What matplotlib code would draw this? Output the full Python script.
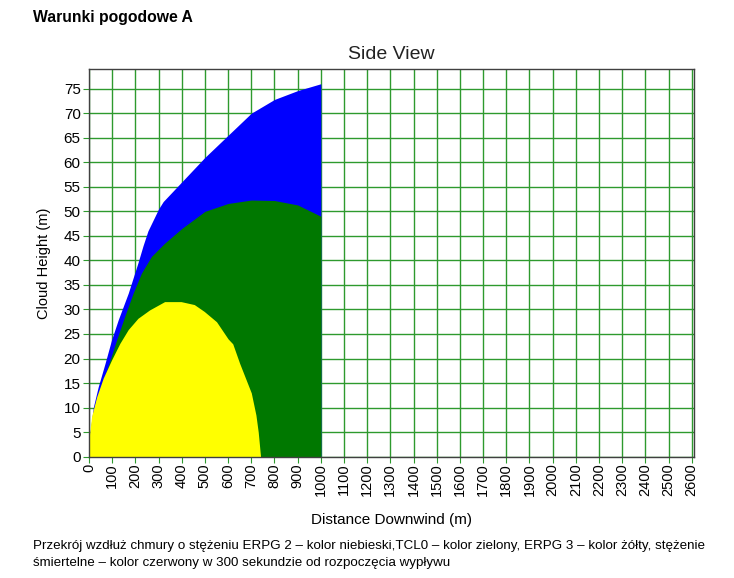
import numpy as np
import matplotlib.pyplot as plt

plt.rcParams['font.family'] = ['Liberation Sans', 'DejaVu Sans']

# ERPG 2 (blue) - upper edge of the cloud
blue_x = [0, 4, 19, 40, 69, 97, 126, 169, 211, 233, 254, 300, 320, 400, 500, 600, 700, 800, 900, 1000]
blue_y = [0, 4.8, 10.2, 14.3, 19, 23.8, 27.9, 33.3, 39.5, 43, 46, 50.5, 52, 56, 61, 65.5, 70, 72.8, 74.6, 76]

# TCL0 (green)
green_x = [0, 10, 25, 47, 86, 119, 154, 190, 226, 269, 326, 400, 500, 600, 700, 800, 900, 1000]
green_y = [0, 5, 10, 13.6, 19, 23.8, 28.6, 33.3, 37.4, 40.8, 43.5, 46.5, 50, 51.6, 52.3, 52.2, 51.3, 49]

# ERPG 3 (yellow)
yellow_x = [0, 11, 33, 61, 97, 133, 169, 211, 261, 326, 397, 454, 497, 550, 600, 620, 650, 700, 720, 730, 740]
yellow_y = [3.7, 8.2, 12.2, 16, 19.7, 23.1, 25.9, 28.2, 29.9, 31.6, 31.6, 31, 29.6, 27.5, 24, 23, 19, 13, 8.5, 5, 0]

x_ticks = np.arange(0, 2601, 100)
y_ticks = np.arange(0, 76, 5)

fig = plt.figure(figsize=(7.34, 5.78), dpi=100)
ax = fig.add_axes([0.1213, 0.2099, 0.8242, 0.6707])

ax.fill_between(blue_x, 0, blue_y, color='#0000ff', lw=0)
ax.fill_between(green_x, 0, green_y, color='#007800', lw=0)
ax.fill_between(yellow_x, 0, yellow_y, color='#ffff00', lw=0)

ax.set_xlim(0, 2610)
ax.set_ylim(0, 79)
ax.set_xticks(x_ticks)
ax.set_yticks(y_ticks)
ax.set_xticklabels([str(v) for v in x_ticks], rotation=90, fontsize=10.5)
ax.set_yticklabels([str(v) for v in y_ticks], fontsize=11)
ax.tick_params(which='both', direction='out', length=4, color='#2e9a2e', pad=2)
ax.tick_params(axis='x', pad=1)

ax.set_axisbelow(True)
ax.grid(True, color='#2e9a2e', lw=1)
for sp in ax.spines.values():
    sp.set_color('#404040')
    sp.set_linewidth(1)

ax.set_title('Side View', fontsize=14, color='#222222', pad=7)
ax.set_xlabel('Distance Downwind (m)', fontsize=11, labelpad=12)
ax.set_ylabel('Cloud Height (m)', fontsize=10.5, labelpad=9)

fig.text(0.045, 0.97, 'Warunki pogodowe A', fontsize=11.3, fontweight='bold', va='center')
fig.text(0.045, 0.055, 'Przekrój wzdłuż chmury o stężeniu ERPG 2 – kolor niebieski,TCL0 – kolor zielony, ERPG 3 – kolor żółty, stężenie',
         fontsize=9.6, va='center')
fig.text(0.045, 0.026, 'śmiertelne – kolor czerwony w 300 sekundzie od rozpoczęcia wypływu',
         fontsize=9.6, va='center')

fig.savefig('out.png', dpi=100)
